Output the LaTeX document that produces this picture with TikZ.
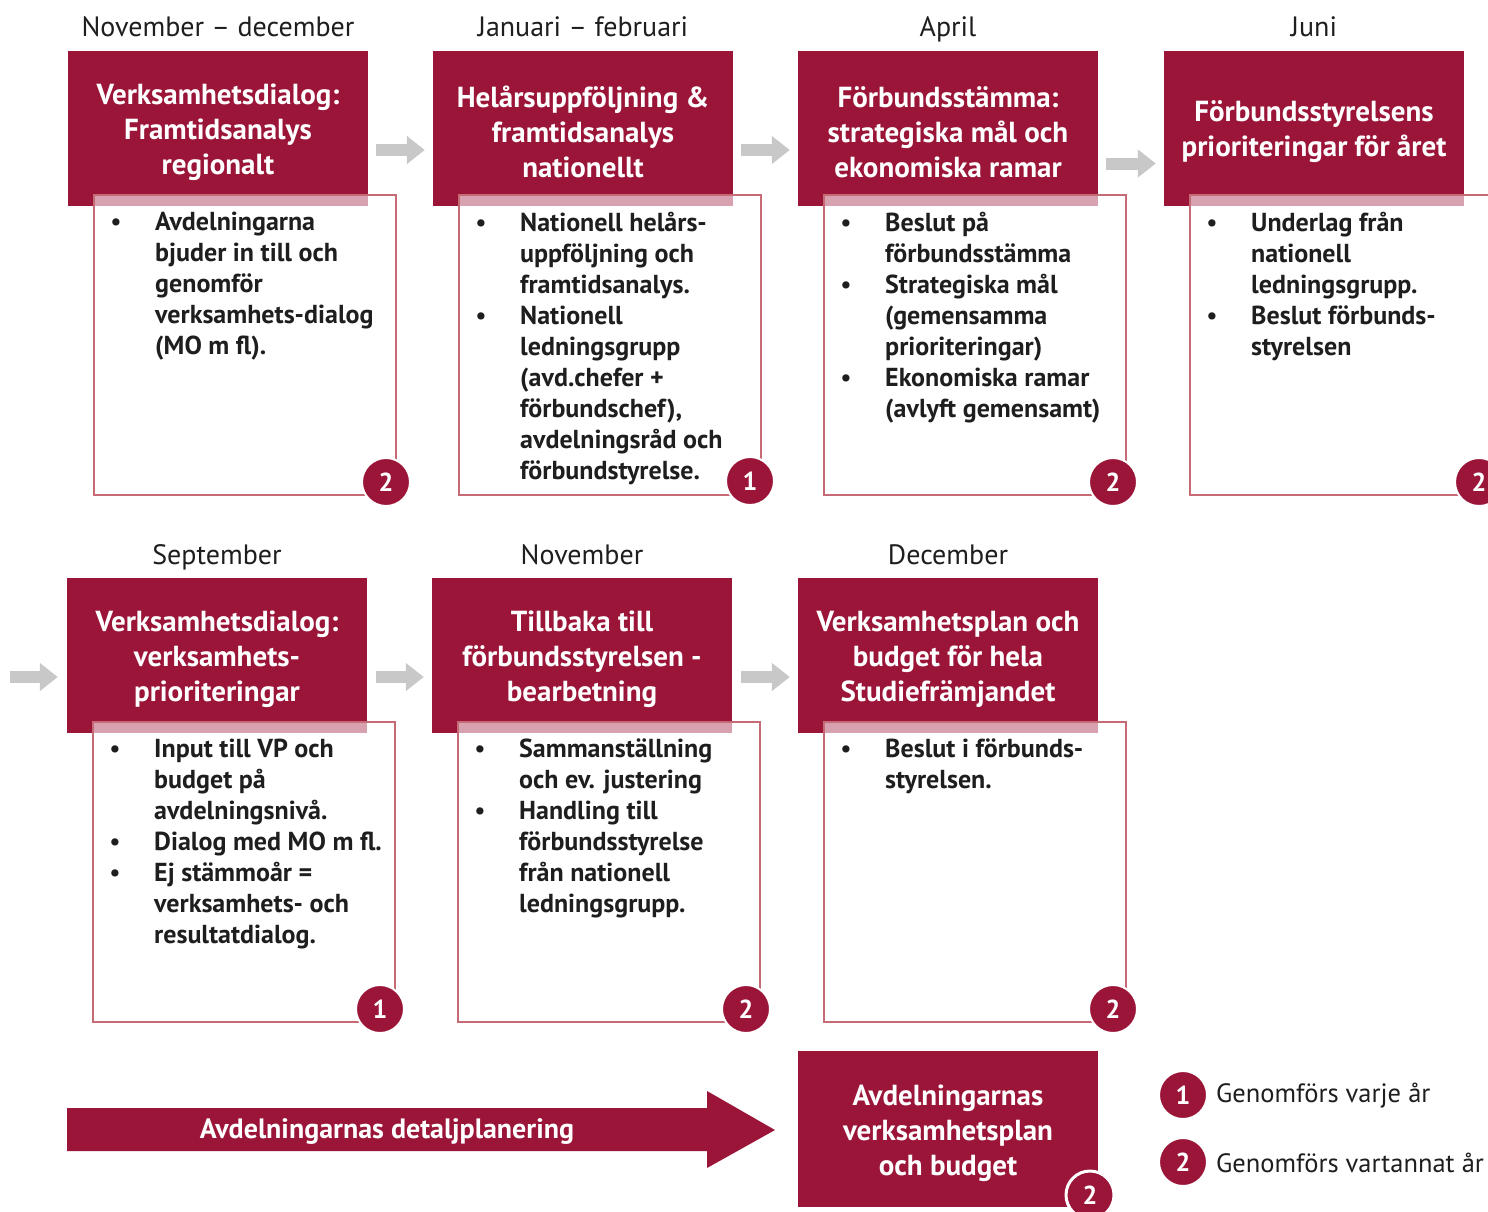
\documentclass[tikz,border=0pt]{standalone}
\usepackage{fontspec}
\setmainfont{PT Sans}
\usetikzlibrary{arrows.meta,calc}
\definecolor{crim}{HTML}{9B1538}
\definecolor{boxc}{HTML}{C66B76}
\definecolor{garr}{HTML}{C8C8C8}
\definecolor{ink}{HTML}{1E1E1E}
\newcommand\bl{\makebox[45pt][l]{\mdseries\textbullet}}
\newcommand\ind{\hspace*{45pt}}
\tikzset{
  hdr/.style={fill=crim, minimum width=300pt, minimum height=155pt, inner sep=0pt},
  htext/.style={text=white, align=center, inner sep=0pt, font=\fontsize{29}{35}\selectfont\bfseries},
  month/.style={anchor=base, text=ink, inner sep=0pt, font=\fontsize{28}{32}\selectfont},
  obox/.style={anchor=north west, draw=boxc, line width=2pt, fill=white, fill opacity=0.6, minimum width=302pt, minimum height=300pt, inner sep=0pt},
  blist/.style={anchor=north west, align=left, text=ink, inner sep=0pt, font=\fontsize{26}{31}\selectfont\bfseries},
  badge/.style={circle, fill=crim, draw=white, line width=2pt, minimum size=48pt, inner sep=0pt, text=white, font=\fontsize{26}{30}\selectfont\bfseries},
  garrow/.style={draw=garr, line width=12pt, -{Triangle[length=18pt,width=27pt]}},
  legend/.style={anchor=west, text=ink, inner sep=0pt, font=\fontsize{26.5}{30}\selectfont},
}
\newcommand\mkstage[9]{%
  \node[month] (m#1) at (#2+150,#3-14) {#4};
  \node[hdr] (h#1) at (#2+150,#3+77.5) {};
  \node[htext] (ht#1) at (#2+150,#3+81) {#5};
  \node[obox] (b#1) at (#2+25,#3+143) {};
  \node[blist] (t#1) at (#2+42,#3+161) {#6};
  \node[badge] (k#1) at (#8,#9) {#7};
}
\begin{document}
\begin{tikzpicture}[x=1pt,y=-1pt]
\useasboundingbox (0,0) rectangle (1488,1212);
\clip (0,0) rectangle (1488,1212);
\fill[white] (0,0) rectangle (1488,1212);

% row 1
\mkstage{1}{68}{51}{November – december}{Verksamhetsdialog:\\Framtidsanalys\\regionalt}{%
\bl Avdelningarna\\\ind bjuder in till och\\\ind genomför\\\ind verksamhets-dialog\\\ind (MO m fl).}{2}{386}{482}
\mkstage{2}{433}{51}{Januari – februari}{Helårsuppföljning \&\\framtidsanalys\\nationellt}{%
\bl Nationell helårs-\\\ind uppföljning och\\\ind framtidsanalys.\\\bl Nationell\\\ind ledningsgrupp\\\ind (avd.chefer +\\\ind förbundschef),\\\ind avdelningsråd och\\\ind förbundstyrelse.}{1}{750}{481}
\mkstage{3}{798}{51}{April}{Förbundsstämma:\\strategiska mål och\\ekonomiska ramar}{%
\bl Beslut på\\\ind förbundsstämma\\\bl Strategiska mål\\\ind (gemensamma\\\ind prioriteringar)\\\bl Ekonomiska ramar\\\ind (avlyft gemensamt)}{2}{1113}{482}
\mkstage{4}{1164}{51}{Juni}{Förbundsstyrelsens\\prioriteringar för året}{%
\bl Underlag från\\\ind nationell\\\ind ledningsgrupp.\\\bl Beslut förbunds-\\\ind styrelsen}{2}{1479}{482}

% row 2
\mkstage{5}{67}{578}{September}{Verksamhetsdialog:\\verksamhets-\\prioriteringar}{%
\bl Input till VP och\\\ind budget på\\\ind avdelningsnivå.\\\bl Dialog med MO m fl.\\\bl Ej stämmoår =\\\ind verksamhets- och\\\ind resultatdialog.}{1}{380}{1009}
\mkstage{6}{432}{578}{November}{Tillbaka till\\förbundsstyrelsen -\\bearbetning}{%
\bl Sammanställning\\\ind och ev. justering\\\bl Handling till\\\ind förbundsstyrelse\\\ind från nationell\\\ind ledningsgrupp.}{2}{746}{1009}
\mkstage{7}{798}{578}{December}{Verksamhetsplan och\\budget för hela\\Studiefrämjandet}{%
\bl Beslut i förbunds-\\\ind styrelsen.}{2}{1113}{1009}

% gray arrows
\draw[garrow] ($(h1.east)+(8,21.5)$) -- ($(h2.west)+(-8,21.5)$);
\draw[garrow] ($(h2.east)+(8,21.5)$) -- ($(h3.west)+(-8,21.5)$);
\draw[garrow] ($(h3.east)+(8,35)$) -- ($(h4.west)+(-8,35)$);
\coordinate (in5) at (10,677);
\draw[garrow] (in5) -- ($(h5.west)+(-9,21.5)$);
\draw[garrow] ($(h5.east)+(9,21.5)$) -- ($(h6.west)+(-8,21.5)$);
\draw[garrow] ($(h6.east)+(9,21.5)$) -- ($(h7.west)+(-8,21.5)$);

% bottom
\node[hdr, minimum height=156pt] (fin) at (948,1129) {};
\node[htext] (fint) at (948,1133) {Avdelningarnas\\verksamhetsplan\\och budget};
\node[badge, line width=3pt] (kf) at (1090,1195) {2};
\fill[crim] (67,1108) -- (707,1108) -- (707,1091) -- (775,1130) -- (707,1168) -- (707,1151) -- (67,1151) -- cycle;
\node[text=white, inner sep=0pt, font=\fontsize{28}{30}\selectfont\bfseries] (det) at (387,1132) {Avdelningarnas detaljplanering};

% legend
\node[badge] (l1) at (1183,1095) {1};
\node[legend] (lt1) at (1216,1096) {Genomförs varje år};
\node[badge] (l2) at (1183,1162) {2};
\node[legend] (lt2) at (1216,1163) {Genomförs vartannat år};
\end{tikzpicture}
\end{document}
